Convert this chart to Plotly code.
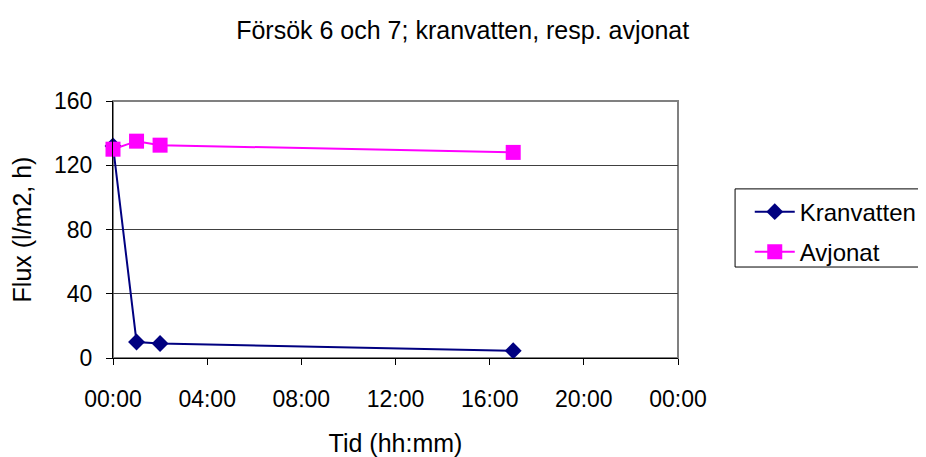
import plotly.graph_objects as go

# tider (hh:mm) och flux (l/m2, h)
tid_kran = ["2000-01-01 00:00", "2000-01-01 01:00", "2000-01-01 02:00", "2000-01-01 17:00"]
flux_kran = [132, 10, 9, 4.5]

tid_avjon = ["2000-01-01 00:00", "2000-01-01 01:00", "2000-01-01 02:00", "2000-01-01 17:00"]
flux_avjon = [130, 135, 132.5, 128]

font = "Liberation Sans, Arial, sans-serif"

fig = go.Figure()
fig.add_trace(go.Scatter(
    x=tid_kran, y=flux_kran, name="Kranvatten", mode="lines+markers",
    line=dict(color="#000080", width=2),
    marker=dict(symbol="diamond", size=13, color="#000080"),
    cliponaxis=False, legendgroup="a",
))
fig.add_trace(go.Scatter(
    x=tid_avjon, y=flux_avjon, name="Avjonat", mode="lines+markers",
    line=dict(color="#FF00FF", width=2),
    marker=dict(symbol="square", size=15, color="#FF00FF"),
    cliponaxis=False, legendgroup="b",
))

# gra ram runt ritytan (som i Excel)
fig.add_shape(type="rect", xref="paper", yref="paper", x0=0, x1=1, y0=0, y1=1,
              line=dict(color="#808080", width=2), layer="below")
# ram runt forklaringen, gar ut over hogerkanten
fig.add_shape(type="rect", xref="paper", yref="paper", x0=1.101, x1=1.5, y0=0.354, y1=0.658,
              line=dict(color="black", width=1), layer="above")

fig.update_layout(
    width=926, height=457,
    margin=dict(l=105, r=256, t=93, b=107, autoexpand=False),
    paper_bgcolor="white", plot_bgcolor="white",
    font=dict(family=font, size=23, color="black"),
    title=dict(text="Försök 6 och 7; kranvatten, resp. avjonat",
               x=0.491, xref="container", xanchor="center", y=0.952, yanchor="middle",
               font=dict(size=25)),
    legend=dict(x=1.127, y=0.49, xanchor="left", yanchor="middle",
                borderwidth=0, bgcolor="rgba(0,0,0,0)",
                font=dict(size=24), tracegroupgap=6, itemwidth=40),
    showlegend=True,
)
fig.update_xaxes(
    type="date", range=["2000-01-01 00:00", "2000-01-02 00:00"],
    dtick=4 * 3600 * 1000, tickformat="%H:%M",
    showgrid=False, showline=True, linecolor="black", linewidth=1,
    ticks="outside", ticklen=6, tickcolor="black", ticklabelstandoff=14,
    title=dict(text="Tid (hh:mm)", standoff=23, font=dict(size=25)),
    zeroline=False, automargin=False,
)
fig.update_yaxes(
    range=[0, 160], dtick=40,
    showgrid=True, gridcolor="#404040", gridwidth=1,
    showline=True, linecolor="black", linewidth=1,
    ticks="outside", ticklen=6, tickcolor="black", ticklabelstandoff=9,
    title=dict(text="Flux (l/m2, h)", standoff=24, font=dict(size=25)),
    zeroline=False, automargin=False,
)

fig.write_html("out.html")
